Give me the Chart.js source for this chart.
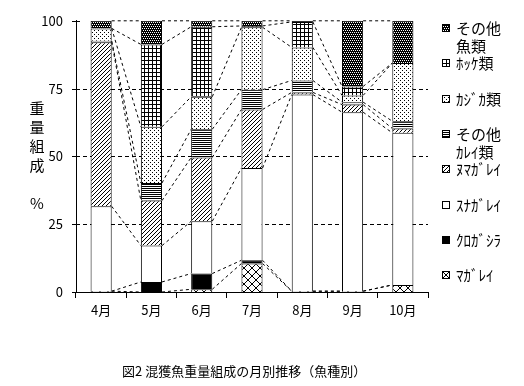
<!DOCTYPE html>
<html>
<head>
<meta charset="utf-8">
<script src="https://cdn.jsdelivr.net/npm/chart.js@4.4.1/dist/chart.umd.min.js"></script>
<style>
body { margin: 0; background: #fff; font-family: "Noto Sans CJK JP", sans-serif; color: #000; }
#caixa { position: relative; width: 524px; height: 386px; }
#tituloY { position: absolute; left: 28px; top: 98px; width: 18px; font-size: 15px; line-height: 19px; text-align: center; }
#legenda .icone { position: absolute; left: 442px; width: 8px; height: 8px; }
#legenda .texto { position: absolute; left: 456px; font-size: 15px; line-height: 18px; white-space: pre; }
#legenda_fig { position: absolute; left: 122px; top: 363px; font-size: 13px; line-height: 16px; white-space: pre; }
</style>
</head>
<body>
<div id="caixa">
  <canvas id="grafico"></canvas>
  <div id="tituloY">重<br>量<br>組<br>成<br><br>%</div>
  <div id="legenda"></div>
  <div id="legenda_fig">図2 混獲魚重量組成の月別推移（魚種別）</div>
</div>
<script>
// meses
const meses = ['4月', '5月', '6月', '7月', '8月', '9月', '10月'];

// composição em % (de baixo para cima na pilha)
const magarei = [0.3, 0, 1.0, 10.5, 0.3, 0.3, 2.6];
const kurogashira = [0, 3.7, 5.8, 1.2, 0, 0, 0];
const sunagarei = [31.3, 13.4, 19.3, 34.0, 72.5, 66.0, 56.1];
const numagarei = [60.5, 16.6, 23.5, 21.6, 0.8, 2.8, 1.6];
const outrasKarei = [0.5, 6.5, 10.4, 7.3, 4.4, 0.9, 2.7];
const kajika = [4.6, 20.7, 12.0, 23.0, 12.2, 2.5, 21.4];
const hokke = [0, 30.4, 25.8, 0.5, 9.4, 3.3, 0];
const outrosPeixes = [2.8, 8.7, 2.2, 1.9, 0.4, 24.2, 15.6];

const nomes = ['ﾏｶﾞﾚｲ', 'ｸﾛｶﾞｼﾗ', 'ｽﾅｶﾞﾚｲ', 'ﾇﾏｶﾞﾚｲ', 'その他\nｶﾚｲ類', 'ｶｼﾞｶ類', 'ﾎｯｹ類', 'その他\n魚類'];
const series = [magarei, kurogashira, sunagarei, numagarei, outrasKarei, kajika, hokke, outrosPeixes];
const tramas = ['cruzado', 'preto', 'branco', 'diagonal', 'listras', 'pontos', 'grade', 'escuro'];

const yTicks = [0, 25, 50, 75, 100];
const fonte = '"Noto Sans CJK JP", sans-serif';

// desenha um ladrilho de trama num canvas pequeno
function ladrilho(tipo) {
    const c = document.createElement('canvas');
    let t = 4;
    if (tipo === 'cruzado') t = 8;
    if (tipo === 'listras') t = 2;
    c.width = t; c.height = t;
    const g = c.getContext('2d');
    const px = (x, y, cor) => { g.fillStyle = cor; g.fillRect(x, y, 1, 1); };
    g.fillStyle = '#fff';
    g.fillRect(0, 0, t, t);
    if (tipo === 'preto') {
        g.fillStyle = '#000'; g.fillRect(0, 0, t, t);
    } else if (tipo === 'escuro') {
        g.fillStyle = '#000'; g.fillRect(0, 0, t, t);
        px(0, 0, '#fff'); px(2, 0, '#fff'); px(1, 2, '#fff'); px(3, 2, '#fff');
    } else if (tipo === 'grade') {
        g.fillStyle = '#000'; g.fillRect(0, 0, t, 1); g.fillRect(0, 0, 1, t);
    } else if (tipo === 'pontos') {
        px(0, 0, '#000'); px(2, 2, '#000');
    } else if (tipo === 'listras') {
        g.fillStyle = '#000'; g.fillRect(0, 0, t, 1);
    } else if (tipo === 'diagonal') {
        for (let i = 0; i < 4; i++) px(3 - i, i, '#000');
    } else if (tipo === 'cruzado') {
        for (let i = 0; i < 8; i++) { px(i, i, '#000'); px(7 - i, i, '#000'); }
    }
    return c;
}

const ctxTmp = document.createElement('canvas').getContext('2d');
function padrao(tipo) {
    return ctxTmp.createPattern(ladrilho(tipo), 'repeat');
}

// legenda em html (ordem invertida, como no original)
const legenda = document.getElementById('legenda');
for (let k = 0; k < nomes.length; k++) {
    const i = nomes.length - 1 - k;
    const cy = 28 + k * 35.3;
    const ic = document.createElement('canvas');
    ic.width = 8; ic.height = 8;
    ic.className = 'icone';
    ic.style.top = Math.round(cy - 4) + 'px';
    const g = ic.getContext('2d');
    g.fillStyle = g.createPattern(ladrilho(tramas[i]), 'repeat');
    g.fillRect(0, 0, 8, 8);
    g.strokeStyle = '#000';
    g.strokeRect(0.5, 0.5, 7, 7);
    legenda.appendChild(ic);
    const tx = document.createElement('div');
    tx.className = 'texto';
    tx.style.top = Math.round(cy - 9) + 'px';
    tx.textContent = nomes[i];
    legenda.appendChild(tx);
}

// linhas de série tracejadas, grade tracejada e cruzes do eixo y
const extras = {
    id: 'extras',
    beforeDatasetsDraw(chart) {
        const { ctx, chartArea, scales } = chart;
        ctx.save();
        ctx.strokeStyle = '#000';
        ctx.lineWidth = 1;
        ctx.setLineDash([4, 3]);
        [25, 50, 75].forEach(v => {
            const y = Math.round(scales.y.getPixelForValue(v)) + 0.5;
            ctx.beginPath();
            ctx.moveTo(chartArea.left, y);
            ctx.lineTo(chartArea.right, y);
            ctx.stroke();
        });
        ctx.restore();
    },
    afterDatasetsDraw(chart) {
        const { ctx, scales } = chart;
        ctx.save();
        ctx.strokeStyle = '#000';
        ctx.lineWidth = 1;
        ctx.setLineDash([3, 3]);
        chart.data.datasets.forEach((ds, d) => {
            const barras = chart.getDatasetMeta(d).data;
            for (let i = 0; i < barras.length - 1; i++) {
                const a = barras[i].getProps(['x', 'y', 'width'], true);
                const b = barras[i + 1].getProps(['x', 'y', 'width'], true);
                ctx.beginPath();
                ctx.moveTo(a.x + a.width / 2, a.y);
                ctx.lineTo(b.x - b.width / 2, b.y);
                ctx.stroke();
            }
        });
        ctx.setLineDash([]);
        const x0 = Math.round(scales.y.right);
        yTicks.forEach(v => {
            const y = Math.round(scales.y.getPixelForValue(v)) + 0.5;
            ctx.beginPath();
            ctx.moveTo(x0 - 4, y);
            ctx.lineTo(x0 + 4, y);
            ctx.stroke();
        });
        ctx.restore();
    }
};

new Chart(document.getElementById('grafico'), {
    type: 'bar',
    data: {
        labels: meses,
        datasets: series.map((valores, i) => ({
            label: nomes[i],
            data: valores,
            backgroundColor: padrao(tramas[i]),
            borderColor: '#000',
            borderWidth: { top: 1, left: 1, right: 1, bottom: 0 },
            borderSkipped: false,
            barPercentage: 0.42,
            categoryPercentage: 1.0
        }))
    },
    options: {
        responsive: true,
        maintainAspectRatio: false,
        animation: false,
        layout: { padding: { top: 19, right: 96, left: 0, bottom: 0 } },
        plugins: {
            legend: { display: false },
            tooltip: { enabled: false }
        },
        scales: {
            x: {
                stacked: true,
                grid: { display: true, drawOnChartArea: false, drawTicks: true, tickLength: 6, color: '#000', offset: true },
                border: { color: '#000' },
                ticks: { color: '#000', font: { family: fonte, size: 13 }, padding: 4, maxRotation: 0 },
                afterFit: s => { s.height = 94; }
            },
            y: {
                stacked: true,
                min: 0,
                max: 100,
                grid: { display: false, drawTicks: false },
                border: { color: '#000' },
                ticks: { stepSize: 25, color: '#000', font: { family: fonte, size: 13 }, padding: 13 },
                afterFit: s => { s.width = 76; }
            }
        }
    },
    plugins: [extras]
});
</script>
</body>
</html>
